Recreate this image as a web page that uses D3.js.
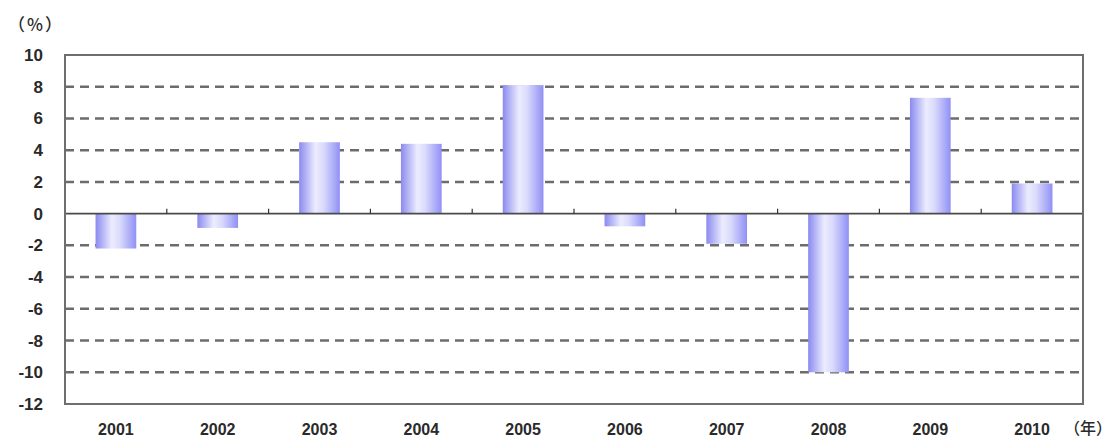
<!DOCTYPE html>
<html>
<head>
<meta charset="utf-8">
<script src="https://cdn.jsdelivr.net/npm/d3@7"></script>
<style>
  html, body { margin: 0; padding: 0; background: #fff; }
  svg text { font-family: "Liberation Sans", Arial, sans-serif; font-weight: bold; fill: #2a2a2a; }
  svg text.cjk { font-family: "Noto Sans CJK JP", sans-serif; font-weight: 500; }
</style>
</head>
<body>
<svg id="chart" width="1112" height="441"></svg>
<script>
// Annual growth rate (%) by year
const years = ["2001", "2002", "2003", "2004", "2005", "2006", "2007", "2008", "2009", "2010"];
const growth = [-2.2, -0.9, 4.5, 4.4, 8.1, -0.8, -1.9, -10.0, 7.3, 1.9];
const yTicks = [10, 8, 6, 4, 2, 0, -2, -4, -6, -8, -10, -12];

const svg = d3.select("#chart");
const plotLeft = 65, plotRight = 1083, plotTop = 55, plotBottom = 404;

const x = d3.scaleBand().domain(years).range([plotLeft, plotRight]).paddingInner(0.6).paddingOuter(0.3);
const y = d3.scaleLinear().domain([-12, 10]).range([plotBottom, plotTop]);

// bar fill: darker edges, light centre
const defs = svg.append("defs");
const grad = defs.append("linearGradient").attr("id", "barFill").attr("x1", "0").attr("x2", "1").attr("y1", "0").attr("y2", "0");
grad.append("stop").attr("offset", "0%").attr("stop-color", "#8a8af0");
grad.append("stop").attr("offset", "40%").attr("stop-color", "#ececfe");
grad.append("stop").attr("offset", "60%").attr("stop-color", "#dadafc");
grad.append("stop").attr("offset", "100%").attr("stop-color", "#9090f6");

// dashed gridlines
svg.append("g").selectAll("line")
  .data(yTicks.filter(d => d !== 0 && d !== 10 && d !== -12))
  .join("line")
  .attr("x1", plotLeft).attr("x2", plotRight)
  .attr("y1", d => y(d)).attr("y2", d => y(d))
  .attr("stroke", "#6c6c6c").attr("stroke-width", 2.5)
  .attr("stroke-dasharray", "9,6");

// bars
svg.append("g").selectAll("rect")
  .data(years.map((yr, i) => ({ yr, v: growth[i] })))
  .join("rect")
  .attr("x", d => x(d.yr))
  .attr("width", x.bandwidth())
  .attr("y", d => y(Math.max(0, d.v)))
  .attr("height", d => Math.abs(y(d.v) - y(0)))
  .attr("fill", "url(#barFill)");

// zero line with category boundary ticks
svg.append("line")
  .attr("x1", plotLeft).attr("x2", plotRight)
  .attr("y1", y(0)).attr("y2", y(0))
  .attr("stroke", "#4a4a4a").attr("stroke-width", 1.6);
const step = x.step();
svg.append("g").selectAll("line")
  .data(d3.range(1, years.length))
  .join("line")
  .attr("x1", i => plotLeft + i * step).attr("x2", i => plotLeft + i * step)
  .attr("y1", y(0)).attr("y2", y(0) - 5)
  .attr("stroke", "#333").attr("stroke-width", 1.2);

// plot frame
svg.append("rect")
  .attr("x", plotLeft).attr("y", plotTop)
  .attr("width", plotRight - plotLeft).attr("height", plotBottom - plotTop)
  .attr("fill", "none").attr("stroke", "#6e6e6e").attr("stroke-width", 2);

// y-axis labels
svg.append("g").selectAll("text")
  .data(yTicks)
  .join("text")
  .attr("x", 43).attr("y", d => y(d) + 6)
  .attr("text-anchor", "end")
  .attr("font-size", 17)
  .text(d => d);

// x-axis labels
svg.append("g").selectAll("text")
  .data(years)
  .join("text")
  .attr("x", d => x(d) + x.bandwidth() / 2).attr("y", 435)
  .attr("text-anchor", "middle")
  .attr("font-size", 16)
  .text(d => d);

// unit labels
svg.append("text").attr("class", "cjk").attr("x", 8).attr("y", 31)
  .attr("font-size", 17).attr("letter-spacing", 2).text("（%）");
svg.append("text").attr("class", "cjk").attr("x", 1064).attr("y", 434)
  .attr("font-size", 16).text("（年）");
</script>
</body>
</html>
